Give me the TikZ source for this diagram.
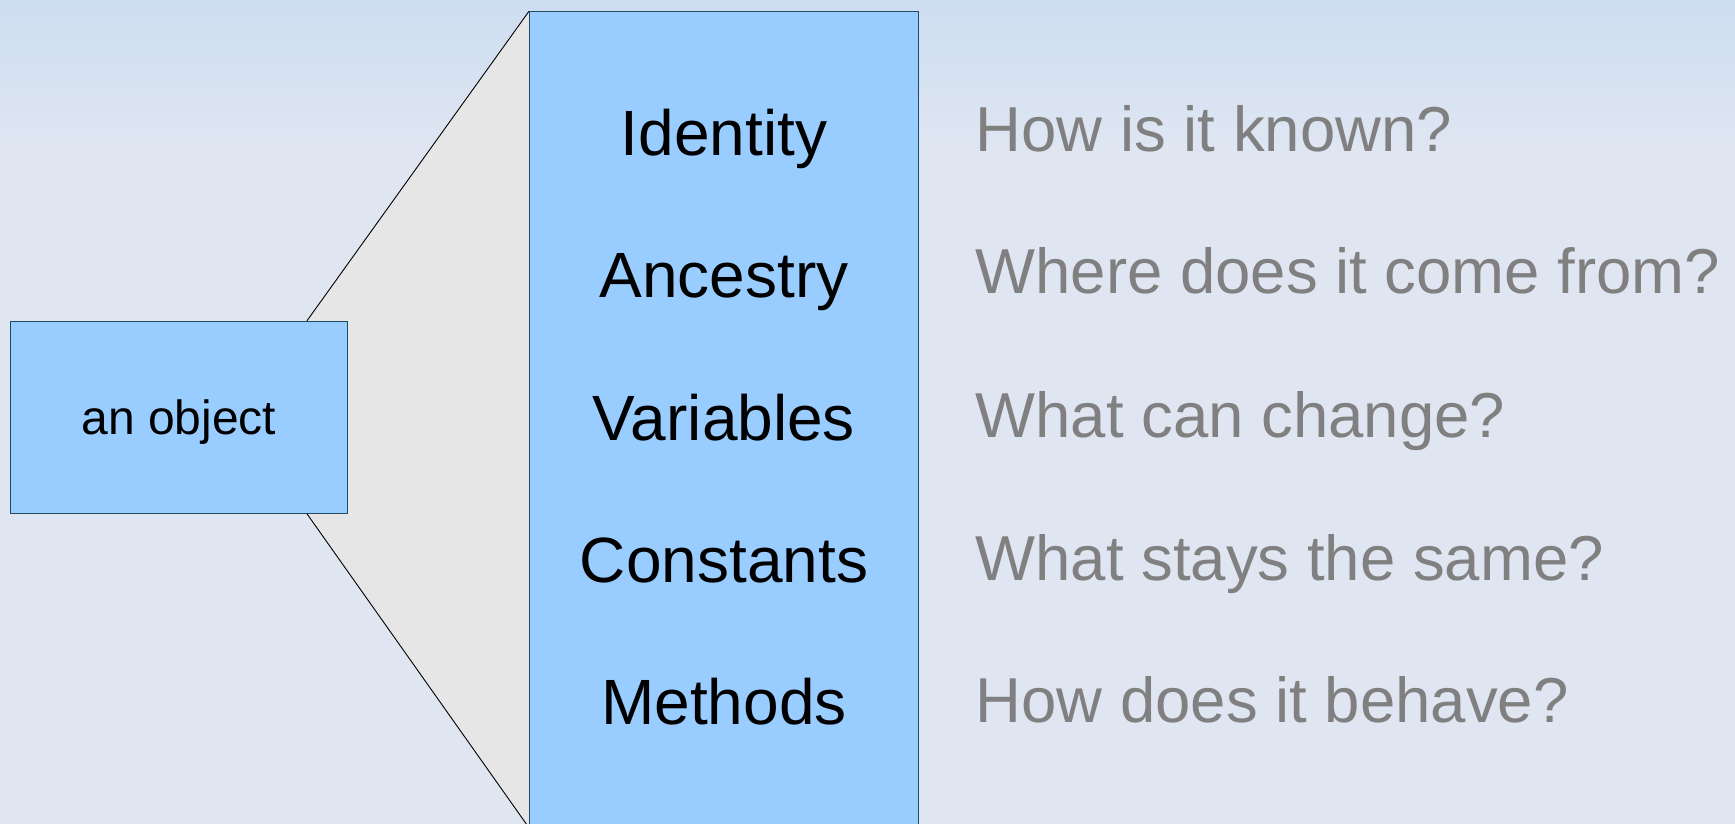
\documentclass[tikz,border=0pt]{standalone}
\usepackage{fontspec}
\setmainfont{Liberation Sans}
\usetikzlibrary{calc}

\definecolor{boxblue}{HTML}{99CCFF}
\definecolor{boxedge}{RGB}{30,75,95}
\definecolor{fanfill}{HTML}{E6E6E6}
\definecolor{bgtop}{HTML}{CDDDF0}
\definecolor{bgmain}{HTML}{DFE6F2}
\definecolor{qgray}{HTML}{808080}

\pgfdeclarelayer{bg}
\pgfdeclarelayer{fan}
\pgfsetlayers{bg,fan,main}

\begin{document}
\begin{tikzpicture}[x=1pt,y=-1pt,
  box/.style={draw=boxedge, line width=0.8pt, fill=boxblue, inner sep=0pt},
  part/.style={anchor=base, font=\fontsize{64}{72}\selectfont, text=black},
  question/.style={anchor=base west, font=\fontsize{63.5}{72}\selectfont, text=qgray},
  fanline/.style={draw=black, line width=0.9pt}]
\useasboundingbox (0,0) rectangle (1735,824);

% page background
\begin{pgfonlayer}{bg}
  \fill[bgmain] (0,0) rectangle (1735,824);
  \shade[top color=bgtop, bottom color=bgmain] (0,0) rectangle (1735,150);
\end{pgfonlayer}

% the object and its expanded view (the latter runs off the bottom edge)
\node[box, minimum width=336.3pt, minimum height=192pt,
      text height=34pt, text depth=0pt,
      font=\fontsize{48}{56}\selectfont] (obj) at (178.8,417.3) {an object};
\node[box, minimum width=389pt, minimum height=816pt] (attrs) at (724,419.5) {};

% parts of the object
\node[part] (identity)  at (724,156) {Identity};
\node[part] (ancestry)  at (724,297) {Ancestry};
\node[part] (variables) at (724,440) {Variables};
\node[part] (constants) at (724,582) {Constants};
\node[part] (methods)   at (724,724) {Methods};

% guiding questions
\node[question] (qidentity)  at (972,152) {How is it known?};
\node[question] (qancestry)  at (972,293) {Where does it come from?};
\node[question] (qvariables) at (972,437) {What can change?};
\node[question] (qconstants) at (972,580) {What stays the same?};
\node[question] (qmethods)   at (972,722) {How does it behave?};

% zoom fan from the object to the expanded view
\coordinate (fanA) at ($(obj.north west)!0.88!(obj.north east)$);
\coordinate (fanD) at ($(obj.south west)!0.88!(obj.south east)$);
\begin{pgfonlayer}{fan}
  \fill[fanfill] (fanA) -- (attrs.north west) -- (attrs.south west) -- (fanD) -- cycle;
  \draw[fanline] (fanA) -- (attrs.north west);
  \draw[fanline] (fanD) -- (attrs.south west);
\end{pgfonlayer}
\end{tikzpicture}
\end{document}
